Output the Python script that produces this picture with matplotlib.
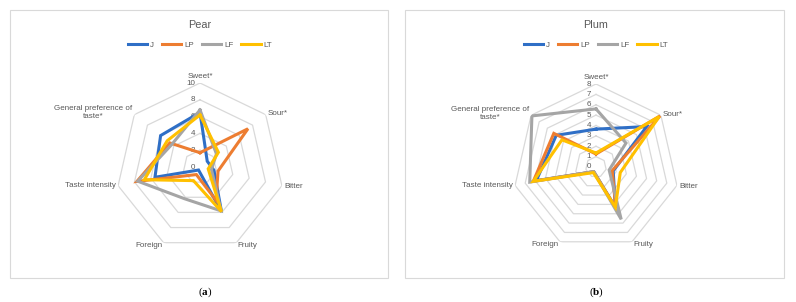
import numpy as np
import matplotlib.pyplot as plt
from matplotlib.patches import Rectangle

plt.rcParams['font.family'] = ['Liberation Sans', 'DejaVu Sans']
plt.rcParams['mathtext.fontset'] = 'custom'
plt.rcParams['mathtext.bf'] = 'Liberation Serif:bold'
plt.rcParams['mathtext.rm'] = 'Liberation Serif'

# Données
categories = ['Sweet*', 'Sour*', 'Bitter', 'Fruity', 'Foreign',
              'Taste intensity', 'General preference of\ntaste*']
series = ['J', 'LP', 'LF', 'LT']
colors = ['#2F6FC6', '#ED7D31', '#A5A5A5', '#FFC000']

pear_J = [6.5, 1.1, 1.7, 5.9, 0.4, 5.5, 6.0]
pear_LP = [1.7, 7.3, 2.2, 4.4, 1.0, 7.7, 4.6]
pear_LF = [6.8, 2.5, 1.4, 5.8, 4.2, 7.6, 4.3]
pear_LT = [6.2, 2.8, 1.0, 5.9, 1.8, 6.8, 5.0]

plum_J = [3.65, 6.25, 1.7, 4.3, 0.5, 5.9, 4.9]
plum_LP = [1.25, 7.9, 1.6, 4.4, 0.5, 6.2, 5.2]
plum_LF = [5.6, 3.7, 1.3, 5.6, 0.5, 6.55, 7.9]
plum_LT = [1.35, 7.8, 2.4, 4.3, 0.6, 6.2, 4.2]

pear_ticks = [0, 2, 4, 6, 8, 10]
plum_ticks = [0, 1, 2, 3, 4, 5, 6, 7, 8]

W, H = 796, 302
fig = plt.figure(figsize=(W / 100, H / 100), dpi=100)

txt = '#595959'
grid_c = '#D9D9D9'
fs = 5.8

# (ha, va, dx, dy) en pixels pour chaque catégorie
label_pos = [('center', 'bottom', 0, 3), ('left', 'center', 2, 1),
             ('left', 'center', 2, -1), ('left', 'center', 1, -3),
             ('right', 'center', -1, -3), ('right', 'center', -2, 0),
             ('right', 'center', -2, 2)]


def radar(cx, cy, rpx, box, title, data, ticks):
    # cadre du graphique
    x0, y0, x1, y1 = box
    fig.add_artist(Rectangle((x0 / W, 1 - y1 / H), (x1 - x0) / W, (y1 - y0) / H,
                             transform=fig.transFigure, fill=False,
                             edgecolor=grid_c, linewidth=0.8))
    ax = fig.add_axes([(cx - rpx) / W, 1 - (cy + rpx) / H, 2 * rpx / W, 2 * rpx / H],
                      projection='polar')
    ax.set_theta_offset(np.pi / 2)
    ax.set_theta_direction(-1)
    rmax = ticks[-1]
    ax.set_ylim(0, rmax)
    ax.grid(False)
    ax.spines['polar'].set_visible(False)
    ax.set_xticks([])
    ax.set_yticks([])
    ax.patch.set_visible(False)

    n = len(categories)
    ang = np.linspace(0, 2 * np.pi, n, endpoint=False)
    angc = np.append(ang, ang[0])
    for v in ticks[1:]:
        ax.plot(angc, [v] * (n + 1), color=grid_c, linewidth=0.9, zorder=1)
    for v in ticks:
        ax.annotate(str(v), (0, v), xytext=(-5, 0), textcoords='offset pixels',
                    ha='right', va='center', fontsize=fs, color=txt)
    for a, lab, (ha, va, dx, dy) in zip(ang, categories, label_pos):
        ax.annotate(lab, (a, rmax), xytext=(dx, dy), textcoords='offset pixels',
                    ha=ha, va=va, fontsize=fs, color=txt,
                    multialignment='center', annotation_clip=False)

    for name, vals, c in zip(series, data, colors):
        ax.plot(angc, list(vals) + [vals[0]], color=c, linewidth=2.2,
                label=name, zorder=3, solid_joinstyle='miter')

    fig.text(cx / W, 1 - 25 / H, title, ha='center', va='center',
             fontsize=7.8, color=txt)
    ax.legend(loc='center', bbox_to_anchor=(cx / W, 1 - 45 / H),
              bbox_transform=fig.transFigure, ncol=4, frameon=False,
              fontsize=fs, handlelength=2.4, columnspacing=1.0,
              handletextpad=0.35, labelcolor=txt)
    return ax


radar(200, 167, 84, (10, 10, 388, 278), 'Pear',
      [pear_J, pear_LP, pear_LF, pear_LT], pear_ticks)
radar(596, 167, 83, (405, 10, 784, 278), 'Plum',
      [plum_J, plum_LP, plum_LF, plum_LT], plum_ticks)

fig.text(205 / W, 1 - 292 / H, r'($\mathbf{a}$)', ha='center', va='center',
         fontsize=8, family='Liberation Serif')
fig.text(597 / W, 1 - 292 / H, r'($\mathbf{b}$)', ha='center', va='center',
         fontsize=8, family='Liberation Serif')

fig.savefig('out.png', dpi=100)
